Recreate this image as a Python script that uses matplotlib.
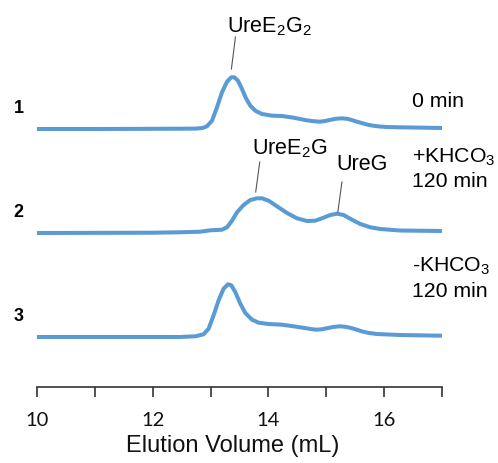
import numpy as np
import matplotlib
matplotlib.use("Agg")
import matplotlib.pyplot as plt

# elution traces (volume in mL, absorbance in a.u.)
vol_0min = [10.0, 11.0, 12.0, 12.5, 12.736, 12.852, 12.938, 13.025, 13.111, 13.197,
            13.284, 13.358, 13.41, 13.474, 13.543, 13.612, 13.687, 13.773, 13.889,
            14.062, 14.234, 14.435, 14.66, 14.78, 14.89, 14.98, 15.06, 15.16, 15.27,
            15.36, 15.44, 15.52, 15.61, 15.70, 15.81, 15.92, 16.04, 16.27, 17.0]
abs_0min = [0.0, 0.0, 0.002, 0.003, 0.004, 0.009, 0.027, 0.083, 0.217, 0.367,
            0.473, 0.517, 0.517, 0.483, 0.40, 0.307, 0.233, 0.183, 0.15,
            0.133, 0.13, 0.113, 0.087, 0.078, 0.073, 0.08, 0.09, 0.102, 0.107,
            0.102, 0.09, 0.075, 0.06, 0.045, 0.033, 0.025, 0.02, 0.017, 0.01]

vol_plus = [10.0, 12.0, 12.47, 12.70, 12.822, 12.995, 13.197, 13.284, 13.37, 13.457,
            13.571, 13.687, 13.802, 13.889, 14.003, 14.148, 14.321, 14.494, 14.666,
            14.81, 14.926, 15.069, 15.185, 15.299, 15.444, 15.588, 15.761, 15.933,
            16.27, 17.0]
abs_plus = [0.0, 0.003, 0.007, 0.011, 0.013, 0.027, 0.033, 0.057, 0.123, 0.207,
            0.28, 0.33, 0.347, 0.347, 0.323, 0.267, 0.20, 0.147, 0.12,
            0.123, 0.147, 0.18, 0.193, 0.18, 0.133, 0.09, 0.057, 0.04,
            0.025, 0.02]

vol_minus = [10.0, 12.47, 12.736, 12.879, 12.966, 13.052, 13.139, 13.225, 13.301,
             13.358, 13.427, 13.514, 13.60, 13.716, 13.83, 14.003, 14.234, 14.435,
             14.66, 14.75, 14.83, 14.93, 15.03, 15.13, 15.24, 15.33, 15.41, 15.50,
             15.61, 15.72, 15.87, 16.27, 17.0]
abs_minus = [0.0, 0.0, 0.007, 0.027, 0.083, 0.217, 0.367, 0.483, 0.527,
             0.517, 0.45, 0.333, 0.24, 0.173, 0.143, 0.13, 0.123, 0.107,
             0.087, 0.078, 0.073, 0.078, 0.09, 0.101, 0.107, 0.102, 0.093, 0.078,
             0.057, 0.042, 0.03, 0.02, 0.013]

trace_ids = ["1", "2", "3"]
conditions = ["0 min", "+KHCO$_3$\n120 min", "-KHCO$_3$\n120 min"]
xticks = [10, 11, 12, 13, 14, 15, 16, 17]
xticklabels = ["10", "", "12", "", "14", "", "16", ""]

plt.rcParams["font.family"] = ["Liberation Sans", "DejaVu Sans"]
plt.rcParams["mathtext.fontset"] = "custom"
plt.rcParams["mathtext.rm"] = "Liberation Sans"
plt.rcParams["mathtext.it"] = "Liberation Sans"

blue = "#5b9bd5"
offsets = [2.58, 1.54, 0.50]

fig = plt.figure(figsize=(4.98, 4.64), dpi=100)
ax = fig.add_axes([37 / 498, 76 / 464, 405 / 498, 388 / 464])

traces = [(vol_0min, abs_0min), (vol_plus, abs_plus), (vol_minus, abs_minus)]
for (v, a), off in zip(traces, offsets):
    ax.plot(v, np.array(a) + off, color=blue, lw=2.9, solid_capstyle="round",
            solid_joinstyle="round")

ax.set_xlim(10, 17)
ax.set_ylim(0, 3.88)
for s in ["left", "right", "top"]:
    ax.spines[s].set_visible(False)
ax.spines["bottom"].set_color("#333333")
ax.spines["bottom"].set_linewidth(1.2)
ax.set_yticks([])
ax.set_xticks(xticks)
ax.set_xticklabels(xticklabels, family=["Lato", "DejaVu Sans"], fontsize=14.5)
ax.tick_params(axis="x", direction="out", length=7, width=1.2, color="#333333",
               pad=10, labelcolor="#111111")
ax.set_xlabel("Elution Volume (mL)", fontsize=17, color="#111111")
ax.xaxis.set_label_coords(0.4835, -0.122)

# trace numbers on the left
for tid, y in zip(trace_ids, [2.75, 1.71, 0.67]):
    ax.text(9.68, y, tid, fontsize=13, fontweight="bold", ha="center",
            va="baseline", clip_on=False)

# condition labels on the right
for cond, y in zip(conditions, [2.81, 2.01, 0.91]):
    ax.text(16.49, y, cond, fontsize=15.3, ha="left", va="baseline",
            linespacing=1.3, clip_on=False)

# peak labels with leader lines
ax.text(13.29, 3.56, "UreE$_2$G$_2$", fontsize=15.5, ha="left", va="baseline")
ax.plot([13.43, 13.36], [3.50, 3.18], color="#555555", lw=0.8)
ax.text(13.72, 2.34, "UreE$_2$G", fontsize=15.5, ha="left", va="baseline")
ax.plot([13.85, 13.78], [2.25, 1.95], color="#555555", lw=0.8)
ax.text(15.17, 2.18, "UreG", fontsize=15.5, ha="left", va="baseline")
ax.plot([15.27, 15.20], [2.05, 1.75], color="#555555", lw=0.8)

fig.savefig("out.png", dpi=100)
